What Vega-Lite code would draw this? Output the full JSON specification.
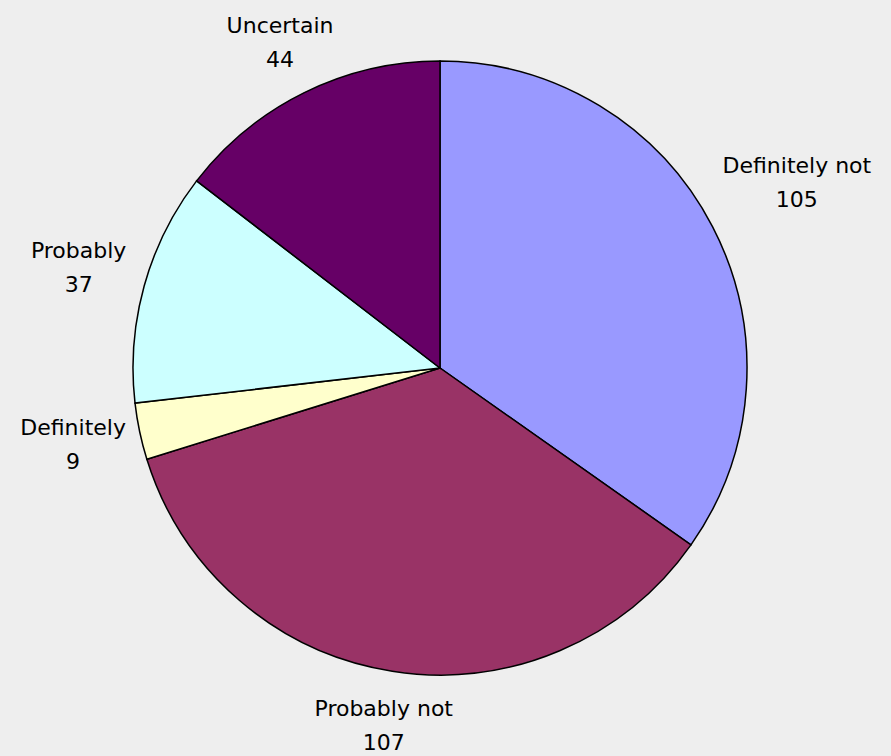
{
  "$schema": "https://vega.github.io/schema/vega-lite/v6.json",
  "width": 880,
  "height": 736,
  "autosize": {"type": "none"},
  "padding": {"left": 0, "top": 0, "right": 11, "bottom": 20},
  "background": "#eeeeee",
  "config": {"view": {"stroke": null}},
  "data": {
    "values": [
      {"category": "Definitely not", "count": 105, "order": 1},
      {"category": "Probably not", "count": 107, "order": 2},
      {"category": "Definitely", "count": 9, "order": 3},
      {"category": "Probably", "count": 37, "order": 4},
      {"category": "Uncertain", "count": 44, "order": 5}
    ]
  },
  "encoding": {
    "theta": {"field": "count", "type": "quantitative", "stack": true},
    "order": {"field": "order", "type": "quantitative"}
  },
  "layer": [
    {
      "mark": {"type": "arc", "outerRadius": 307, "stroke": "#000000", "strokeWidth": 1.5},
      "encoding": {
        "color": {
          "field": "category",
          "type": "nominal",
          "scale": {
            "domain": ["Definitely not", "Probably not", "Definitely", "Probably", "Uncertain"],
            "range": ["#9999ff", "#993366", "#ffffcc", "#ccffff", "#660066"]
          },
          "legend": null
        }
      }
    },
    {
      "mark": {"type": "text", "radius": 402, "dy": -17, "font": "DejaVu Sans", "fontSize": 22, "color": "#000000"},
      "encoding": {
        "text": {"field": "category", "type": "nominal"},
        "opacity": {"condition": {"test": "datum.category === 'Definitely not'", "value": 1}, "value": 0}
      }
    },
    {
      "mark": {"type": "text", "radius": 402, "dy": 17, "font": "DejaVu Sans", "fontSize": 22, "color": "#000000"},
      "encoding": {
        "text": {"field": "count", "type": "quantitative"},
        "opacity": {"condition": {"test": "datum.category === 'Definitely not'", "value": 1}, "value": 0}
      }
    },
    {
      "mark": {"type": "text", "radius": 375, "dy": -17, "font": "DejaVu Sans", "fontSize": 22, "color": "#000000"},
      "encoding": {
        "text": {"field": "category", "type": "nominal"},
        "opacity": {"condition": {"test": "datum.category === 'Definitely' || datum.category === 'Probably'", "value": 1}, "value": 0}
      }
    },
    {
      "mark": {"type": "text", "radius": 375, "dy": 17, "font": "DejaVu Sans", "fontSize": 22, "color": "#000000"},
      "encoding": {
        "text": {"field": "count", "type": "quantitative"},
        "opacity": {"condition": {"test": "datum.category === 'Definitely' || datum.category === 'Probably'", "value": 1}, "value": 0}
      }
    },
    {
      "mark": {"type": "text", "radius": 362, "dy": -17, "font": "DejaVu Sans", "fontSize": 22, "color": "#000000"},
      "encoding": {
        "text": {"field": "category", "type": "nominal"},
        "opacity": {"condition": {"test": "datum.category === 'Probably not' || datum.category === 'Uncertain'", "value": 1}, "value": 0}
      }
    },
    {
      "mark": {"type": "text", "radius": 362, "dy": 17, "font": "DejaVu Sans", "fontSize": 22, "color": "#000000"},
      "encoding": {
        "text": {"field": "count", "type": "quantitative"},
        "opacity": {"condition": {"test": "datum.category === 'Probably not' || datum.category === 'Uncertain'", "value": 1}, "value": 0}
      }
    }
  ]
}
